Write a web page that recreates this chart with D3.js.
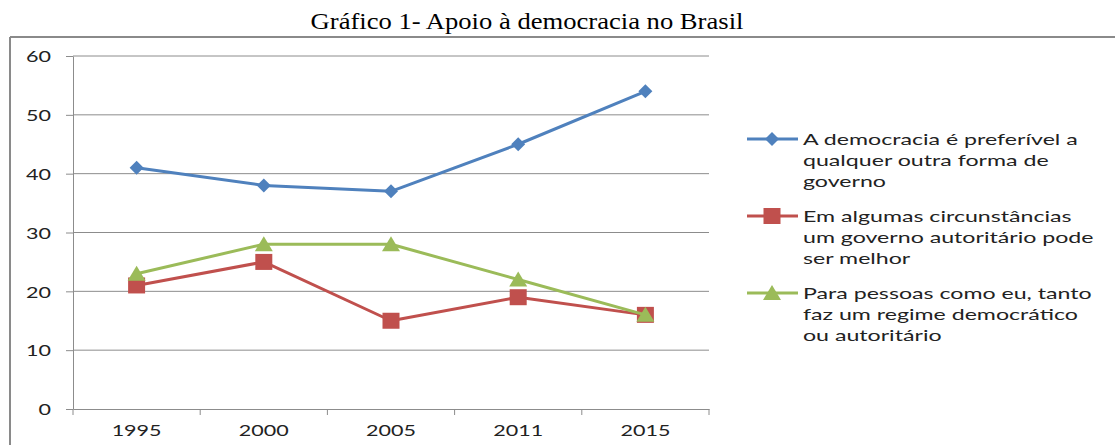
<!DOCTYPE html>
<html>
<head>
<meta charset="utf-8">
<script src="https://cdn.jsdelivr.net/npm/d3@7.9.0/dist/d3.min.js"></script>
<style>
  body { margin: 0; background: #fff; }
  svg { display: block; }
</style>
</head>
<body>
<svg id="chart" width="1115" height="445"></svg>
<script>
const years = ['1995', '2000', '2005', '2011', '2015'];
const democracia = [41, 38, 37, 45, 54];
const autoritario = [21, 25, 15, 19, 16];
const tantoFaz = [23, 28, 28, 22, 16];
const yTicks = [0, 10, 20, 30, 40, 50, 60];

const seriesNames = [
  ['A democracia é preferível a', 'qualquer outra forma de', 'governo'],
  ['Em algumas circunstâncias', 'um governo autoritário pode', 'ser melhor'],
  ['Para pessoas como eu, tanto', 'faz um regime democrático', 'ou autoritário']
];
const series = [
  { values: democracia, color: '#4F81BD', marker: 'diamond' },
  { values: autoritario, color: '#C0504D', marker: 'square' },
  { values: tantoFaz, color: '#9BBB59', marker: 'triangle' }
];

const svg = d3.select('#chart');
const sansFont = 'Lato, "Open Sans", sans-serif';

// plot area
const plotLeft = 73, plotRight = 709, plotTop = 56, plotBottom = 409;

const x = d3.scaleBand().domain(years).range([plotLeft, plotRight]);
const y = d3.scaleLinear().domain([0, 60]).range([plotBottom, plotTop]);

// measure a string so the stretched look of the original can be matched
function stretchFor(str, size, family, target) {
  const t = svg.append('text').attr('font-size', size).attr('font-family', family).text(str);
  const w = t.node().getComputedTextLength();
  t.remove();
  return target / w;
}

function label(g, str, px, py, opts) {
  return g.append('text')
    .attr('transform', `translate(${px},${py}) scale(${opts.sx},1)`)
    .attr('font-size', opts.size)
    .attr('font-family', opts.family)
    .attr('fill', opts.fill || '#222')
    .attr('text-anchor', opts.anchor || 'start')
    .attr('dominant-baseline', opts.baseline || 'auto')
    .text(str);
}

// outer frame (only left and top edges visible)
svg.append('line').attr('x1', 10).attr('x2', 10).attr('y1', 37).attr('y2', 445)
  .attr('stroke', '#8a8a8a').attr('stroke-width', 2);
svg.append('line').attr('x1', 10).attr('x2', 1115).attr('y1', 37).attr('y2', 37)
  .attr('stroke', '#8a8a8a').attr('stroke-width', 2);

// title
const titleStr = 'Gráfico 1- Apoio à democracia no Brasil';
const titleFont = '"Liberation Serif", "Times New Roman", serif';
const titleSx = stretchFor(titleStr, 23, titleFont, 433);
label(svg, titleStr, 527, 29, { sx: titleSx, size: 23, family: titleFont, anchor: 'middle', fill: '#000' });

// gridlines
svg.append('g').selectAll('line').data(yTicks.filter(d => d > 0)).join('line')
  .attr('x1', plotLeft).attr('x2', plotRight)
  .attr('y1', d => y(d)).attr('y2', d => y(d))
  .attr('stroke', '#8c8c8c').attr('stroke-width', 1);

// y axis
const yAxis = svg.append('g').attr('transform', `translate(${plotLeft},0)`)
  .call(d3.axisLeft(y).tickValues(yTicks).tickSize(7).tickSizeOuter(0).tickFormat(''));
yAxis.select('.domain').attr('stroke', '#8c8c8c');
yAxis.selectAll('.tick line').attr('stroke', '#8c8c8c');

// x axis
const xAxis = svg.append('g').attr('transform', `translate(0,${plotBottom})`)
  .call(d3.axisBottom(x).tickSize(0).tickSizeOuter(0).tickFormat(''));
xAxis.select('.domain').attr('stroke', '#8c8c8c');
const edges = years.map(d => x(d)).concat([plotRight]);
xAxis.selectAll('.edge').data(edges).join('line').attr('class', 'edge')
  .attr('x1', d => d).attr('x2', d => d).attr('y1', 0).attr('y2', 6)
  .attr('stroke', '#8c8c8c');

const axisSize = 15.5;
const axisSx = stretchFor('1995', axisSize, sansFont, 50);

yTicks.forEach(v => {
  label(svg, String(v), 51, y(v), { sx: axisSx, size: axisSize, family: sansFont, anchor: 'end', baseline: 'central' });
});
years.forEach(yr => {
  label(svg, yr, x(yr) + x.bandwidth() / 2, 436, { sx: axisSx, size: axisSize, family: sansFont, anchor: 'middle' });
});

// markers
function drawMarker(g, type, cx, cy, color) {
  if (type === 'diamond') {
    g.append('path').attr('d', `M${cx},${cy - 7}L${cx + 7},${cy}L${cx},${cy + 7}L${cx - 7},${cy}Z`)
      .attr('fill', color);
  } else if (type === 'square') {
    g.append('rect').attr('x', cx - 8.5).attr('y', cy - 8).attr('width', 17).attr('height', 16)
      .attr('fill', color);
  } else {
    g.append('path').attr('d', `M${cx},${cy - 8}L${cx + 9},${cy + 7}L${cx - 9},${cy + 7}Z`)
      .attr('fill', color);
  }
}

const line = d3.line()
  .x((d, i) => x(years[i]) + x.bandwidth() / 2)
  .y(d => y(d));

series.forEach(s => {
  const g = svg.append('g');
  g.append('path').datum(s.values).attr('d', line)
    .attr('fill', 'none').attr('stroke', s.color).attr('stroke-width', 3)
    .attr('stroke-linejoin', 'round');
  s.values.forEach((v, i) => drawMarker(g, s.marker, x(years[i]) + x.bandwidth() / 2, y(v), s.color));
});

// legend
const legSize = 15.5;
const legSx = stretchFor(seriesNames[0][0], legSize, sansFont, 275);
const legendTops = [139, 216, 293];
series.forEach((s, i) => {
  const g = svg.append('g');
  const ly = legendTops[i];
  g.append('line').attr('x1', 747).attr('x2', 798).attr('y1', ly).attr('y2', ly)
    .attr('stroke', s.color).attr('stroke-width', 3);
  drawMarker(g, s.marker, 772, ly, s.color);
  seriesNames[i].forEach((txt, j) => {
    label(g, txt, 803, ly + j * 21, { sx: legSx, size: legSize, family: sansFont, baseline: 'central' });
  });
});
</script>
</body>
</html>
